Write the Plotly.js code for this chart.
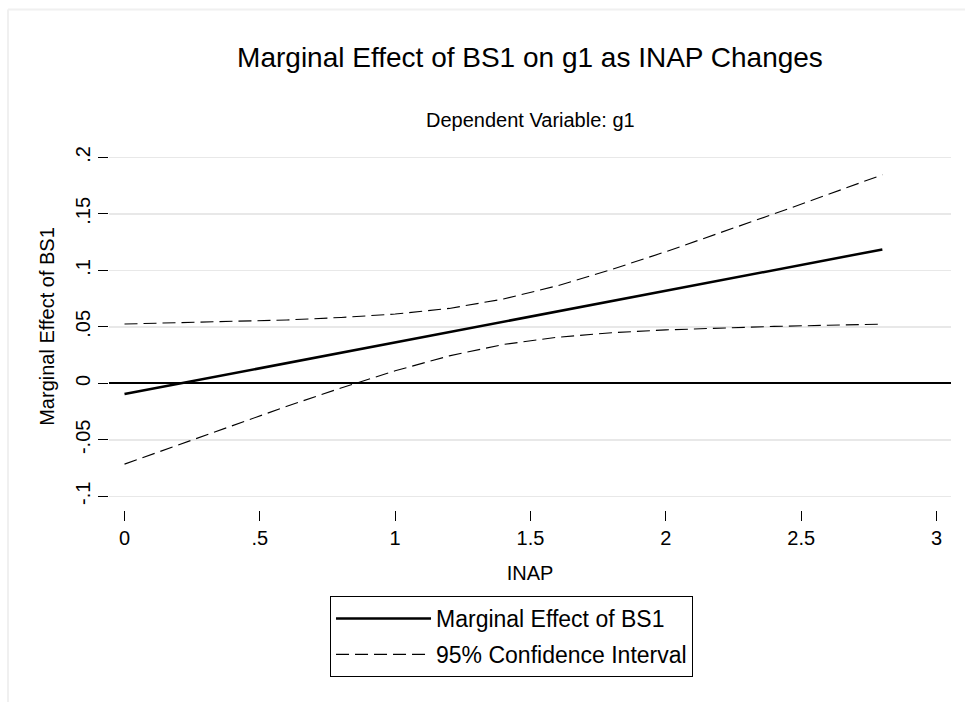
<!DOCTYPE html>
<html>
<head>
<meta charset="utf-8">
<script src="https://cdn.plot.ly/plotly-3.0.1.min.js"></script>
<style>html,body{margin:0;padding:0;background:#fff;}#chart{width:965px;height:702px;}</style>
</head>
<body>
<div id="chart"></div>
<script>
// INAP values at which the marginal effect is evaluated
const inap = [0, 0.2, 0.4, 0.6, 0.8, 1.0, 1.2, 1.4, 1.6, 1.8, 2.0, 2.2, 2.4, 2.6, 2.8];
// Marginal effect of BS1
const marginalEffect = [-0.0095, -0.0004, 0.0088, 0.0179, 0.0271, 0.0362, 0.0453, 0.0545, 0.0636, 0.0728, 0.0819, 0.0910, 0.1002, 0.1093, 0.1185];
// 95% confidence bounds
const ciUpper = [0.0525, 0.0535, 0.0547, 0.0561, 0.0583, 0.0613, 0.0663, 0.0746, 0.0864, 0.1008, 0.1165, 0.1330, 0.1500, 0.1672, 0.1846];
const ciLower = [-0.0715, -0.0543, -0.0371, -0.0203, -0.0041, 0.0111, 0.0243, 0.0344, 0.0408, 0.0448, 0.0473, 0.0490, 0.0504, 0.0514, 0.0524];
// Tick labels
const xTickVals = [0, 0.5, 1, 1.5, 2, 2.5, 3];
const xTickText = ['0', '.5', '1', '1.5', '2', '2.5', '3'];
const yTickVals = [-0.1, -0.05, 0, 0.05, 0.1, 0.15, 0.2];
const yTickText = ['-.1', '-.05', '0', '.05', '.1', '.15', '.2'];

const FONT = 'Liberation Sans, Arial, Helvetica, sans-serif';

const traces = [
  {
    x: inap, y: marginalEffect, type: 'scatter', mode: 'lines',
    name: 'Marginal Effect of BS1', legendgroup: 'me',
    line: {color: '#000000', width: 2.5}
  },
  {
    x: inap, y: ciUpper, type: 'scatter', mode: 'lines',
    name: '95% Confidence Interval', legendgroup: 'ci',
    line: {color: '#000000', width: 1.1, dash: '13px,6px'}
  },
  {
    x: inap, y: ciLower, type: 'scatter', mode: 'lines',
    name: '95% Confidence Interval', legendgroup: 'ci', showlegend: false,
    line: {color: '#000000', width: 1.1, dash: '13px,6px'}
  }
];

const layout = {
  width: 965, height: 702,
  paper_bgcolor: '#ffffff', plot_bgcolor: '#ffffff',
  font: {family: FONT, color: '#000000', size: 20},
  margin: {l: 109, r: 14, t: 143, b: 192, pad: 0},
  title: {
    text: 'Marginal Effect of BS1 on g1 as INAP Changes',
    font: {family: FONT, size: 28, color: '#000000'},
    x: 0.5, xanchor: 'center', xref: 'paper',
    y: 1 - 57 / 702, yanchor: 'middle'
  },
  xaxis: {
    range: [-0.0573, 3.0536],
    tickvals: xTickVals, ticktext: xTickText,
    ticks: 'outside', ticklen: 10, tickwidth: 1, tickcolor: '#000000',
    showgrid: false, zeroline: false, showline: false,
    tickfont: {family: FONT, size: 20},
    title: {text: 'INAP', font: {family: FONT, size: 20}, standoff: 17}
  },
  yaxis: {
    range: [-0.1121, 0.2127],
    tickvals: yTickVals, ticktext: yTickText,
    ticks: 'outside', ticklen: 10, tickwidth: 1, tickcolor: '#000000',
    tickangle: -90,
    showgrid: true, gridcolor: '#e8e8e8', gridwidth: 1.5,
    zeroline: true, zerolinecolor: '#000000', zerolinewidth: 2,
    showline: false,
    tickfont: {family: FONT, size: 20},
    title: {text: 'Marginal Effect of BS1', font: {family: FONT, size: 20}, standoff: 12}
  },
  showlegend: true,
  legend: {
    orientation: 'v',
    traceorder: 'grouped',
    x: 0.2625, xanchor: 'left', xref: 'paper',
    y: -0.2343, yanchor: 'top', yref: 'paper',
    bordercolor: '#000000', borderwidth: 1, bgcolor: '#ffffff',
    font: {family: FONT, size: 23, color: '#000000'},
    itemwidth: 95,
    tracegroupgap: 3
  },
  annotations: [
    {
      text: 'Dependent Variable: g1', showarrow: false,
      xref: 'paper', yref: 'paper', x: 0.5, y: (510 - 120) / 367,
      xanchor: 'center', yanchor: 'middle',
      font: {family: FONT, size: 20, color: '#000000'}
    }
  ],
  shapes: [
    {type: 'line', xref: 'paper', yref: 'paper',
     x0: (8 - 109) / 842, x1: (965 - 109) / 842, y0: (510 - 9.5) / 367, y1: (510 - 9.5) / 367,
     line: {color: '#f0f0f0', width: 2}},
    {type: 'line', xref: 'paper', yref: 'paper',
     x0: (8 - 109) / 842, x1: (8 - 109) / 842, y0: (510 - 9.5) / 367, y1: (510 - 702) / 367,
     line: {color: '#f0f0f0', width: 2}}
  ]
};

Plotly.newPlot('chart', traces, layout, {displayModeBar: false, staticPlot: true});
</script>
</body>
</html>
